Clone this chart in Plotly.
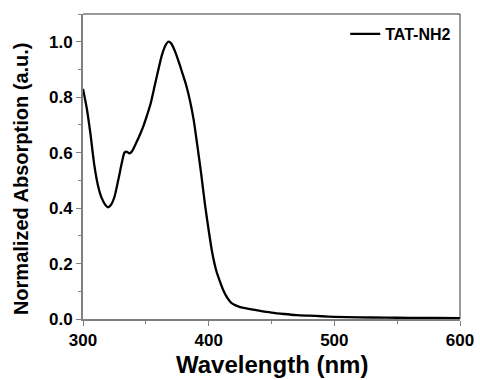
import plotly.graph_objects as go

wavelength = [300, 303, 306, 309, 312, 315, 318, 320, 322, 325, 328, 331, 333, 335, 337, 339,
              342, 345, 348, 351, 354, 357, 360, 363, 366, 368, 370, 373, 376, 379, 382, 385,
              388, 391, 394, 397, 400, 403, 406, 409, 412, 415, 418, 421, 425, 430, 440, 450,
              460, 470, 480, 490, 500, 520, 540, 560, 580, 600]
absorption = [0.83, 0.76, 0.665, 0.555, 0.48, 0.435, 0.41, 0.403, 0.41, 0.44, 0.50, 0.565, 0.600,
              0.603, 0.597, 0.605, 0.632, 0.662, 0.695, 0.735, 0.78, 0.84, 0.90, 0.955, 0.99, 1.0,
              0.995, 0.968, 0.93, 0.888, 0.845, 0.79, 0.72, 0.625, 0.525, 0.415, 0.32, 0.235,
              0.175, 0.135, 0.10, 0.075, 0.058, 0.05, 0.043, 0.038, 0.030, 0.023, 0.018, 0.014,
              0.012, 0.010, 0.008, 0.006, 0.005, 0.004, 0.004, 0.003]
series_name = "TAT-NH2"
x_title = "Wavelength (nm)"
y_title = "Normalized Absorption (a.u.)"

FONT = "Liberation Sans, Arial, sans-serif"

fig = go.Figure()
fig.add_trace(go.Scatter(x=wavelength, y=absorption, mode="lines", name=series_name,
                         line=dict(color="black", width=2.3, shape="spline", smoothing=0.6)))

axis_common = dict(showgrid=False, zeroline=False, showline=True, linecolor="#808080",
                   linewidth=2, ticks="outside", ticklen=5, tickwidth=1, tickcolor="#808080",
                   automargin=False,
                   tickfont=dict(family=FONT, size=17, color="black", weight="bold"))

fig.update_xaxes(range=[300, 600], dtick=100, tick0=300, ticklabelstandoff=0,
                 minor=dict(dtick=50, ticks="outside", ticklen=3, tickcolor="#808080"),
                 **axis_common)
fig.update_yaxes(range=[0, 1.1], dtick=0.2, tick0=0, tickformat=".1f",
                 minor=dict(dtick=0.1, ticks="outside", ticklen=3, tickcolor="#808080"),
                 **axis_common)

# top and right frame lines
fig.add_shape(type="line", xref="paper", yref="paper", x0=0, x1=1, y0=1, y1=1,
              line=dict(color="#333333", width=1))
fig.add_shape(type="line", xref="paper", yref="paper", x0=1, x1=1, y0=0, y1=1,
              line=dict(color="#333333", width=1))

fig.add_annotation(text=x_title, xref="paper", yref="paper", x=0.501, y=-0.15,
                   xanchor="center", yanchor="middle", showarrow=False,
                   font=dict(family=FONT, size=24, color="black", weight="bold"))
fig.add_annotation(text=y_title, xref="paper", yref="paper", x=-0.1645, y=0.462,
                   xanchor="center", yanchor="middle", showarrow=False, textangle=-90,
                   font=dict(family=FONT, size=20, color="black", weight="bold"))

fig.update_layout(
    width=480, height=380,
    margin=dict(l=83, r=20, t=14, b=61, autoexpand=False),
    paper_bgcolor="white", plot_bgcolor="white",
    showlegend=True,
    legend=dict(x=0.99, y=0.99, xanchor="right", yanchor="top", bgcolor="rgba(0,0,0,0)",
                font=dict(family=FONT, size=16, color="black", weight="bold"),
                itemwidth=30),
)

fig.write_html("out.html")
